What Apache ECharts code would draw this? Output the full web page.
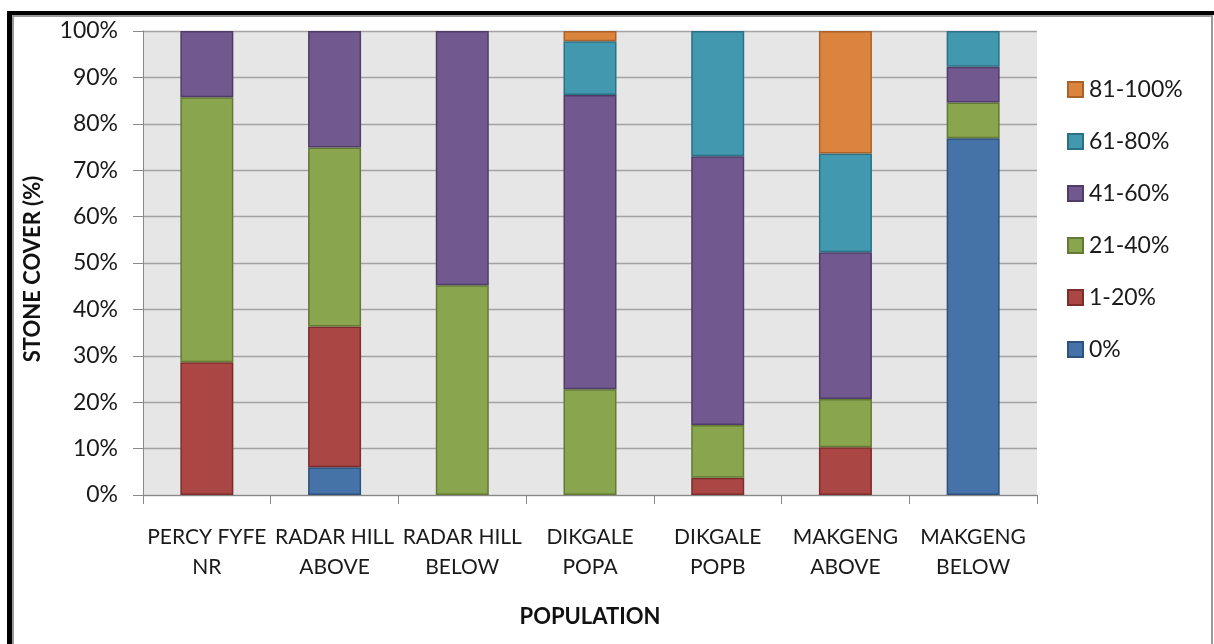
<!DOCTYPE html>
<html>
<head>
<meta charset="utf-8">
<script src="https://cdn.jsdelivr.net/npm/echarts@6/dist/echarts.min.js"></script>
<style>
  html, body { margin: 0; padding: 0; background: #ffffff; }
  #chart { width: 1214px; height: 644px; }
</style>
</head>
<body>
<div id="chart"></div>
<script>
// Stone cover classes per population (percent of quadrats)
const categories = ['PERCY FYFE\nNR', 'RADAR HILL\nABOVE', 'RADAR HILL\nBELOW', 'DIKGALE\nPOPA', 'DIKGALE\nPOPB', 'MAKGENG\nABOVE', 'MAKGENG\nBELOW'];
const cover0     = [null, 6.0,  null, null, null, null, 76.9];
const cover1_20  = [28.6, 30.3, null, null, 3.7,  10.3, null];
const cover21_40 = [57.1, 38.6, 45.2, 22.8, 11.4, 10.4, 7.7];
const cover41_60 = [14.3, 25.1, 54.8, 63.4, 57.9, 31.6, 7.7];
const cover61_80 = [null, null, null, 11.6, 27.0, 21.3, 7.7];
const cover81_100 = [null, null, null, 2.2, null, 26.4, null];
const yTicks = [0, 10, 20, 30, 40, 50, 60, 70, 80, 90, 100];

const FONT = 'Lato';

const seriesDefs = [
  { name: '0%',      data: cover0,      color: '#4572A7', border: '#2E527D' },
  { name: '1-20%',   data: cover1_20,   color: '#AA4643', border: '#7D2E2C' },
  { name: '21-40%',  data: cover21_40,  color: '#89A54E', border: '#637A35' },
  { name: '41-60%',  data: cover41_60,  color: '#71588F', border: '#4F3D68' },
  { name: '61-80%',  data: cover61_80,  color: '#4198AF', border: '#2C7085' },
  { name: '81-100%', data: cover81_100, color: '#DB843D', border: '#A9622A' }
];

const chart = echarts.init(document.getElementById('chart'), null, { renderer: 'canvas' });

chart.setOption({
  animation: false,
  backgroundColor: '#ffffff',
  grid: {
    left: 143, top: 31, right: 177, bottom: 149,
    show: true, backgroundColor: '#E6E6E6', borderWidth: 0
  },
  legend: {
    orient: 'vertical',
    left: 1062, top: 73,
    itemWidth: 15, itemHeight: 15, itemGap: 29,
    icon: 'rect',
    data: ['81-100%', '61-80%', '41-60%', '21-40%', '1-20%', '0%'],
    textStyle: { fontFamily: FONT, fontSize: 23, color: '#1a1a1a', padding: [0, 0, 0, 1] }
  },
  xAxis: {
    type: 'category',
    data: categories,
    axisLine: { show: true, lineStyle: { color: '#888888', width: 1 } },
    axisTick: { show: true, length: 9, inside: false, lineStyle: { color: '#888888' } },
    axisLabel: { fontFamily: FONT, fontSize: 21, color: '#1a1a1a', lineHeight: 30, margin: 27, interval: 0 },
    splitLine: { show: false }
  },
  yAxis: {
    type: 'value',
    min: yTicks[0], max: yTicks[yTicks.length - 1], interval: 10,
    axisLine: { show: true, lineStyle: { color: '#888888', width: 1 } },
    axisTick: { show: true, length: 10, lineStyle: { color: '#888888' } },
    axisLabel: { fontFamily: FONT, fontSize: 23, color: '#1a1a1a', margin: 25, formatter: '{value}%' },
    splitLine: { show: true, lineStyle: { color: '#A3A3A3', width: 1.3 } }
  },
  series: seriesDefs.map(d => ({
    name: d.name,
    type: 'bar',
    stack: 'cover',
    barWidth: '41.5%',
    data: d.data,
    itemStyle: { color: d.color, borderColor: d.border, borderWidth: 1.5 }
  })),
  graphic: [
    // chart frame
    { type: 'rect', silent: true, shape: { x: 7, y: 11, width: 1300, height: 4 }, style: { fill: '#000000' } },
    { type: 'rect', silent: true, shape: { x: 7, y: 11, width: 5, height: 700 }, style: { fill: '#000000' } },
    { type: 'rect', silent: true, shape: { x: 13, y: 16, width: 1199, height: 700 }, style: { fill: null, stroke: '#9A9A9A', lineWidth: 2 } },
    // axis titles
    {
      type: 'text', silent: true, x: 33, y: 269, rotation: Math.PI / 2,
      style: { text: 'STONE COVER (%)', fontFamily: FONT, fontSize: 22, fontWeight: 'bold', fill: '#111111', align: 'center', verticalAlign: 'middle' }
    },
    {
      type: 'text', silent: true, x: 590, y: 617,
      style: { text: 'POPULATION', fontFamily: FONT, fontSize: 22, fontWeight: 'bold', fill: '#111111', align: 'center', verticalAlign: 'middle' }
    }
  ]
});
</script>
</body>
</html>
